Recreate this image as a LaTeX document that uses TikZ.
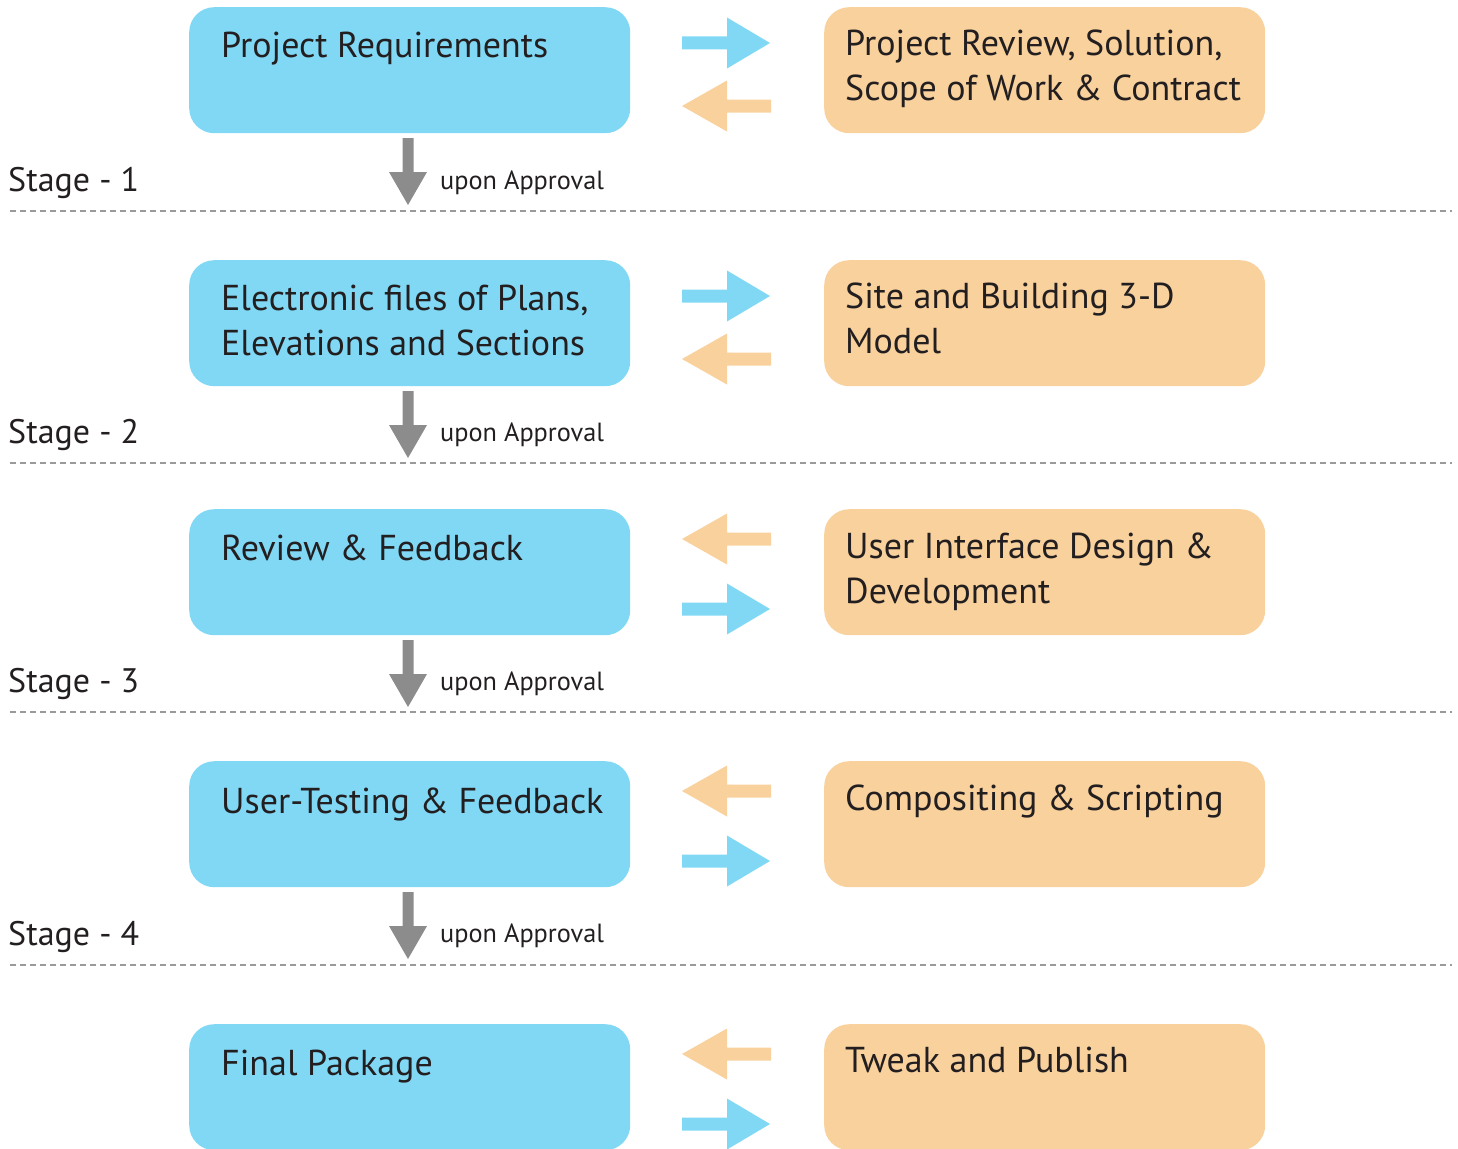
\documentclass[tikz,border=0pt]{standalone}
\usepackage{fontspec}
\setmainfont{PT Sans}
\definecolor{boxblue}{HTML}{81D8F5}
\definecolor{boxorange}{HTML}{F8D19D}
\definecolor{arrgray}{HTML}{8C8C8C}
\definecolor{dashgray}{HTML}{9A9A9A}
\definecolor{txt}{HTML}{231F20}
\begin{document}
\begin{tikzpicture}[x=1pt,y=-1pt,
  bluebox/.style={fill=boxblue,rounded corners=25pt,minimum width=441pt,minimum height=126pt,inner sep=0pt,anchor=north west},
  orangebox/.style={fill=boxorange,rounded corners=25pt,minimum width=441pt,minimum height=126pt,inner sep=0pt,anchor=north west},
  boxtext/.style={anchor=base west,inner sep=0pt,text=txt,font=\fontsize{36}{45}\selectfont,align=left},
  stagetext/.style={anchor=base west,inner sep=0pt,text=txt,font=\fontsize{34}{42}\selectfont},
  apptext/.style={anchor=base west,inner sep=0pt,text=txt,font=\fontsize{26.3}{30}\selectfont},
  sep/.style={dashgray,line width=2.5pt,dash pattern=on 6pt off 4pt},
  downarr/.pic={\fill[arrgray] (-5.5,0) -- (5.5,0) -- (5.5,34) -- (19,34) -- (0,67) -- (-19,34) -- (-5.5,34) -- cycle;},
  rightarr/.pic={\fill[boxblue] (0,-6.5) -- (45,-6.5) -- (45,-25.5) -- (88,0) -- (45,25.5) -- (45,6.5) -- (0,6.5) -- cycle;},
  leftarr/.pic={\fill[boxorange] (0,0) -- (45,-25.5) -- (45,-6.5) -- (89,-6.5) -- (89,6.5) -- (45,6.5) -- (45,25.5) -- cycle;}
]
\useasboundingbox (0,0) rectangle (1458,1148);
\clip (0,0) rectangle (1458,1148);
% Row 1
\node[bluebox] (b1) at (189,7) {};
\node[orangebox] (o1) at (824,7) {};
\node[boxtext] (tb1) at (221,58) {Project Requirements};
\node[boxtext] (to1) at (845,100) {Project Review, Solution,\\Scope of Work \& Contract};
\pic at (682,43) {rightarr};
\pic at (682,106) {leftarr};
\pic at (408,138) {downarr};
\node[stagetext] (s1) at (8,191) {Stage - 1};
\node[apptext] (a1) at (440,189) {upon Approval};
\draw[sep] (10,211) -- (1452,211);
% Row 2
\node[bluebox] (b2) at (189,260) {};
\node[orangebox] (o2) at (824,260) {};
\node[boxtext] (tb2) at (221,355) {Electronic files of Plans,\\Elevations and Sections};
\node[boxtext] (to2) at (845,353) {Site and Building 3-D\\Model};
\pic at (682,296) {rightarr};
\pic at (682,359) {leftarr};
\pic at (408,391) {downarr};
\node[stagetext] (s2) at (8,443) {Stage - 2};
\node[apptext] (a2) at (440,441) {upon Approval};
\draw[sep] (10,463) -- (1452,463);
% Row 3
\node[bluebox] (b3) at (189,509) {};
\node[orangebox] (o3) at (824,509) {};
\node[boxtext] (tb3) at (221,560) {Review \& Feedback};
\node[boxtext] (to3) at (845,603) {User Interface Design \&\\Development};
\pic at (682,539) {leftarr};
\pic at (682,609) {rightarr};
\pic at (408,640) {downarr};
\node[stagetext] (s3) at (8,692) {Stage - 3};
\node[apptext] (a3) at (440,690) {upon Approval};
\draw[sep] (10,712) -- (1452,712);
% Row 4
\node[bluebox] (b4) at (189,761) {};
\node[orangebox] (o4) at (824,761) {};
\node[boxtext] (tb4) at (221,813) {User-Testing \& Feedback};
\node[boxtext] (to4) at (845,810) {Compositing \& Scripting};
\pic at (682,791) {leftarr};
\pic at (682,861) {rightarr};
\pic at (408,892) {downarr};
\node[stagetext] (s4) at (8,945) {Stage - 4};
\node[apptext] (a4) at (440,942) {upon Approval};
\draw[sep] (10,965) -- (1452,965);
% Row 5
\node[bluebox] (b5) at (189,1024) {};
\node[orangebox] (o5) at (824,1024) {};
\node[boxtext] (tb5) at (221,1075) {Final Package};
\node[boxtext] (to5) at (845,1072) {Tweak and Publish};
\pic at (682,1054) {leftarr};
\pic at (682,1124) {rightarr};
\end{tikzpicture}
\end{document}
